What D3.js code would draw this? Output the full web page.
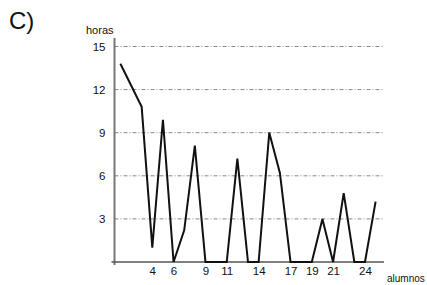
<!DOCTYPE html>
<html>
<head>
<meta charset="utf-8">
<script src="https://cdn.jsdelivr.net/npm/d3@7"></script>
<style>
  body { margin: 0; background: #fff; }
  text { font-family: "Liberation Sans", Arial, sans-serif; }
</style>
</head>
<body>
<div id="chart"></div>
<script>
// alumnos 1..25 y horas de cada uno
const alumnos = d3.range(1, 26);
const horas = [13.8, 12.3, 10.8, 1, 9.9, 0, 2.2, 8.1, 0, 0, 0, 7.2, 0, 0, 9, 6.2, 0, 0, 0, 3, 0, 4.8, 0, 0, 4.2];
const yTicks = [3, 6, 9, 12, 15];
const xTicks = [4, 6, 9, 11, 14, 17, 19, 21, 24];

const width = 427, height = 285;

const svg = d3.select("#chart").append("svg")
  .attr("width", width)
  .attr("height", height);

// escalas
const x = d3.scaleLinear().domain([1, 25]).range([120.4, 375.6]);
const y = d3.scaleLinear().domain([0, 15]).range([262, 46.5]);

const x0 = 114.5, x1 = 384;

// grid punteada
svg.append("g")
  .selectAll("line")
  .data(yTicks)
  .join("line")
  .attr("x1", x0)
  .attr("x2", x1)
  .attr("y1", d => y(d))
  .attr("y2", d => y(d))
  .attr("stroke", "#888")
  .attr("stroke-width", 1)
  .attr("stroke-dasharray", "4,2,1,2");

// eje y
svg.append("line")
  .attr("x1", x0).attr("x2", x0)
  .attr("y1", 38).attr("y2", 265)
  .attr("stroke", "#777")
  .attr("stroke-width", 2);

// eje x
svg.append("line")
  .attr("x1", 111.5).attr("x2", x1)
  .attr("y1", y(0)).attr("y2", y(0))
  .attr("stroke", "#555")
  .attr("stroke-width", 1.5);

// etiquetas y
const yAxis = d3.axisLeft(y).tickValues(yTicks).tickSize(0).tickPadding(9);
const gy = svg.append("g")
  .attr("transform", `translate(${x0},0)`)
  .call(yAxis);
gy.select(".domain").remove();
gy.selectAll("text")
  .attr("font-size", "11.5px")
  .attr("fill", "#111")
  .attr("font-family", "Liberation Sans, Arial, sans-serif");

// etiquetas x
const xAxis = d3.axisBottom(x).tickValues(xTicks).tickSize(0).tickPadding(5);
const gx = svg.append("g")
  .attr("transform", `translate(0,${y(0)})`)
  .call(xAxis);
gx.select(".domain").remove();
gx.selectAll("text")
  .attr("font-size", "11.5px")
  .attr("fill", "#111")
  .attr("font-family", "Liberation Sans, Arial, sans-serif");

// línea de datos
const line = d3.line()
  .x((d, i) => x(alumnos[i]))
  .y(d => y(d));

svg.append("path")
  .datum(horas)
  .attr("d", line)
  .attr("fill", "none")
  .attr("stroke", "#111")
  .attr("stroke-width", 2)
  .attr("stroke-linejoin", "miter");

// títulos
svg.append("text")
  .attr("x", 86).attr("y", 34)
  .attr("font-size", "11px")
  .attr("fill", "#111")
  .text("horas");

svg.append("text")
  .attr("x", 387).attr("y", 282)
  .attr("font-size", "10px")
  .attr("fill", "#111")
  .text("alumnos");

svg.append("text")
  .attr("x", 9).attr("y", 29)
  .attr("font-size", "24px")
  .attr("fill", "#111")
  .text("C)");
</script>
</body>
</html>
